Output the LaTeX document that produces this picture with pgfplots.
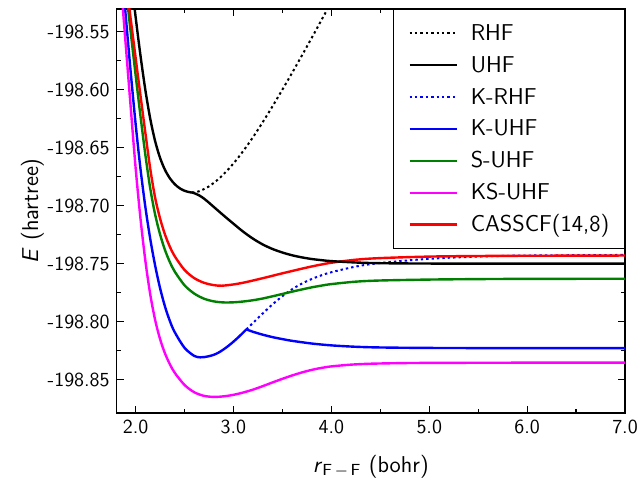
\documentclass[border=0pt]{standalone}
\usepackage{fontspec}
\renewcommand{\familydefault}{\sfdefault}
\usepackage{pgfplots}
\pgfplotsset{compat=1.18}
\definecolor{cgreen}{RGB}{0,128,0}
\definecolor{cmag}{RGB}{255,0,255}
\definecolor{cblue}{RGB}{0,0,255}
\definecolor{cred}{RGB}{255,0,0}
\begin{document}
\begin{tikzpicture}
\useasboundingbox (-58.35bp,-33.5bp) rectangle (262.2bp,206.5bp);
\begin{axis}[
  at={(0,0)}, anchor=south west,
  width=254.2bp, height=202bp, scale only axis,
  xmin=1.807, xmax=7.0, ymin=-198.8786, ymax=-198.5306,
  xtick={2,3,4,5,6,7},
  ytick={-198.85,-198.80,-198.75,-198.70,-198.65,-198.60,-198.55},
  minor x tick num=1, minor y tick num=1,
  tick align=inside, major tick length=3.5bp, minor tick length=2bp,
  /pgf/number format/assume math mode=true,
  xticklabel style={/pgf/number format/.cd, fixed, fixed zerofill, precision=1},
  yticklabel style={/pgf/number format/.cd, fixed, fixed zerofill, precision=2, 1000 sep={}},
  scaled y ticks=false,
  tick label style={font=\fontsize{10}{12}\selectfont},
  label style={font=\fontsize{11.5}{14}\selectfont},
  xlabel={\textsl{r}\textsubscript{F\,$-$\,F} (bohr)},
  ylabel={\textsl{E} (hartree)},
  xlabel style={yshift=-3.8bp},
  ylabel style={yshift=-5bp},
  axis line style={line width=0.8bp},
  every tick/.style={black, line width=0.6bp},
  legend cell align=left,
  legend image code/.code={\draw[#1] (0bp,0bp) -- (23.5bp,0bp);},
  legend style={at={(1,1)}, anchor=north east, draw=black, line width=0.7bp,
    font=\fontsize{11.5}{14}\selectfont, inner xsep=7.5bp, inner ysep=6.8bp,
    nodes={inner sep=0pt, text height=8.5bp, text depth=1.5bp},
    row sep=5.95bp, column sep=6.5bp},
]
% RHF (dotted black)
\addplot[black, line width=1bp, dash pattern=on 1.2bp off 1.5bp, smooth] coordinates {
(2.576,-198.6887) (2.65,-198.6876) (2.75,-198.6834) (2.85,-198.6769) (2.95,-198.6685)
(3.05,-198.6585) (3.15,-198.6471) (3.25,-198.6346) (3.4,-198.6143) (3.6,-198.5855)
(3.8,-198.5554) (4.0,-198.5245) (4.2,-198.4933)};
\addlegendentry{RHF}
% UHF part 1
\addplot[black, line width=1.2bp, smooth] coordinates {
(1.9,-198.462) (1.95,-198.5008) (2.0,-198.5371) (2.05,-198.5706) (2.1,-198.6004)
(2.15,-198.6252) (2.2,-198.6445) (2.25,-198.6588) (2.3,-198.6691) (2.35,-198.6764)
(2.4,-198.6815) (2.45,-198.685) (2.5,-198.6872) (2.55,-198.6884) (2.576,-198.6887)};
\addlegendentry{UHF}
% K-RHF (dotted blue)
\addplot[cblue, line width=1bp, dash pattern=on 1.2bp off 1.5bp, smooth] coordinates {
(3.132,-198.8066) (3.2,-198.801) (3.3,-198.7928) (3.4,-198.785) (3.5,-198.778)
(3.6,-198.772) (3.7,-198.7671) (3.8,-198.7632) (3.9,-198.76) (4.0,-198.7574)
(4.25,-198.7525) (4.5,-198.7494) (5.0,-198.7458) (5.5,-198.7439) (6.0,-198.743) (7.0,-198.7425)};
\addlegendentry{K-RHF}
% K-UHF part 1
\addplot[cblue, line width=1.2bp, smooth] coordinates {
(1.85,-198.4876) (1.9,-198.5371) (1.95,-198.5849) (2.0,-198.6292) (2.05,-198.6682)
(2.1,-198.7012) (2.15,-198.7287) (2.2,-198.7517) (2.25,-198.771) (2.3,-198.7868)
(2.35,-198.7993) (2.4,-198.809) (2.5,-198.8225) (2.6,-198.8295) (2.66,-198.8307)
(2.7,-198.8305) (2.75,-198.8297) (2.8,-198.8285) (2.85,-198.8265) (2.9,-198.8238)
(2.95,-198.8207) (3.0,-198.8172) (3.05,-198.8134) (3.1,-198.8093) (3.132,-198.8066)};
\addlegendentry{K-UHF}
% S-UHF
\addplot[cgreen, line width=1.2bp, smooth] coordinates {
(1.85,-198.4726) (1.9,-198.5121) (1.95,-198.5504) (2.0,-198.5872) (2.05,-198.6227)
(2.1,-198.6562) (2.15,-198.6852) (2.2,-198.7077) (2.25,-198.7247) (2.3,-198.7381)
(2.35,-198.7486) (2.4,-198.7568) (2.5,-198.7686) (2.6,-198.7758) (2.7,-198.7802)
(2.8,-198.7825) (2.9,-198.7834) (3.0,-198.7833) (3.1,-198.7826) (3.2,-198.7815)
(3.3,-198.78) (3.4,-198.7781) (3.5,-198.7761) (3.6,-198.7741) (3.7,-198.7722)
(3.8,-198.7704) (3.9,-198.7689) (4.0,-198.7676) (4.25,-198.7655) (4.5,-198.7645)
(5.0,-198.7637) (5.5,-198.7633) (6.0,-198.7631) (7.0,-198.763)};
\addlegendentry{S-UHF}
% KS-UHF
\addplot[cmag, line width=1.2bp, smooth] coordinates {
(1.82,-198.478) (1.85,-198.509) (1.9,-198.562) (1.95,-198.615) (2.0,-198.667)
(2.05,-198.711) (2.1,-198.7475) (2.15,-198.7765) (2.2,-198.7986) (2.25,-198.8149)
(2.3,-198.8272) (2.35,-198.8366) (2.4,-198.844) (2.5,-198.8545) (2.6,-198.8608)
(2.7,-198.8639) (2.8,-198.8648) (2.9,-198.8643) (3.0,-198.863) (3.1,-198.861)
(3.2,-198.8585) (3.3,-198.8555) (3.4,-198.8523) (3.5,-198.8492) (3.6,-198.8463)
(3.7,-198.8437) (3.8,-198.8415) (3.9,-198.8398) (4.0,-198.8385) (4.2,-198.837)
(4.4,-198.8362) (4.7,-198.8357) (5.0,-198.8355) (6.0,-198.8353) (7.0,-198.8353)};
\addlegendentry{KS-UHF}
% CASSCF(14,8)
\addplot[cred, line width=1.2bp, smooth] coordinates {
(1.85,-198.4713) (1.9,-198.5053) (1.95,-198.5391) (2.0,-198.5723) (2.05,-198.6051)
(2.1,-198.6373) (2.15,-198.6683) (2.2,-198.6933) (2.25,-198.711) (2.3,-198.7248)
(2.35,-198.7354) (2.4,-198.7436) (2.5,-198.7554) (2.6,-198.7625) (2.7,-198.7665)
(2.8,-198.7685) (2.88,-198.769) (3.0,-198.7679) (3.1,-198.7664) (3.2,-198.7645)
(3.3,-198.7625) (3.4,-198.7604) (3.5,-198.7583) (3.6,-198.7563) (3.7,-198.7543)
(3.8,-198.7524) (3.9,-198.7507) (4.0,-198.7492) (4.25,-198.7466) (4.5,-198.7452)
(5.0,-198.7439) (5.5,-198.7434) (6.0,-198.7432) (7.0,-198.743)};
\addlegendentry{CASSCF(14,8)}
% UHF part 2
\addplot[black, line width=1.2bp, smooth, forget plot] coordinates {
(2.576,-198.6887) (2.6,-198.6893) (2.65,-198.6912) (2.7,-198.694) (2.75,-198.6975)
(2.8,-198.7012) (2.9,-198.7085) (3.0,-198.7156) (3.1,-198.7225) (3.2,-198.7285)
(3.3,-198.7335) (3.4,-198.7374) (3.5,-198.7404) (3.6,-198.7428) (3.7,-198.7446)
(3.8,-198.746) (3.9,-198.747) (4.0,-198.7478) (4.25,-198.749) (4.5,-198.7496)
(5.0,-198.7499) (6.0,-198.75) (7.0,-198.75)};
% K-UHF part 2
\addplot[cblue, line width=1.2bp, smooth, forget plot] coordinates {
(3.132,-198.8066) (3.2,-198.8087) (3.3,-198.8112) (3.4,-198.8133) (3.5,-198.815)
(3.6,-198.8165) (3.8,-198.8188) (4.0,-198.8204) (4.25,-198.8216) (4.5,-198.8222)
(5.0,-198.8226) (6.0,-198.8228) (7.0,-198.8228)};
\end{axis}
\end{tikzpicture}
\end{document}
